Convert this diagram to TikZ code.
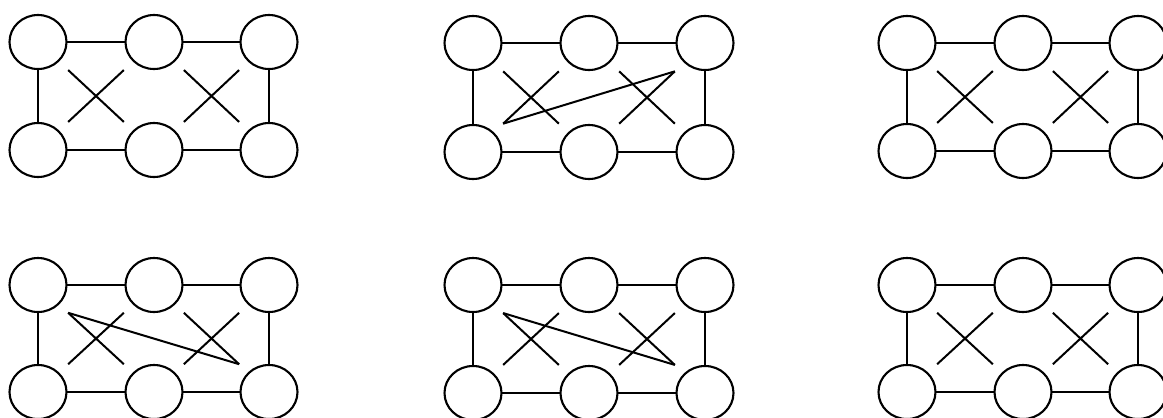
\documentclass[tikz,border=0pt]{standalone}
\usetikzlibrary{shapes.geometric,calc}
\tikzset{
  vx/.style={draw=black, ellipse, line width=2.1pt, minimum width=57pt, minimum height=54pt, inner sep=0pt, outer sep=0pt},
  ed/.style={draw=black, line width=2pt}
}
\newcommand\graphsix[6]{%
  \node[vx] (#1a) at (#2,#5) {};
  \node[vx] (#1b) at (#3,#5) {};
  \node[vx] (#1c) at (#4,#5) {};
  \node[vx] (#1d) at (#2,#6) {};
  \node[vx] (#1e) at (#3,#6) {};
  \node[vx] (#1f) at (#4,#6) {};
  \draw[ed] (#1a) -- (#1b) -- (#1c) (#1d) -- (#1e) -- (#1f) (#1a) -- (#1d) (#1c) -- (#1f);
  \coordinate (#1ae) at ($(#1a.center)!0.26!(#1e.center)$);
  \coordinate (#1ea) at ($(#1a.center)!0.74!(#1e.center)$);
  \coordinate (#1bd) at ($(#1b.center)!0.26!(#1d.center)$);
  \coordinate (#1db) at ($(#1b.center)!0.74!(#1d.center)$);
  \coordinate (#1bf) at ($(#1b.center)!0.26!(#1f.center)$);
  \coordinate (#1fb) at ($(#1b.center)!0.74!(#1f.center)$);
  \coordinate (#1ce) at ($(#1c.center)!0.26!(#1e.center)$);
  \coordinate (#1ec) at ($(#1c.center)!0.74!(#1e.center)$);
  \draw[ed] (#1ae) -- (#1ea) (#1bd) -- (#1db) (#1bf) -- (#1fb) (#1ce) -- (#1ec);
}
\begin{document}
\begin{tikzpicture}[x=1pt,y=-1pt]
  \useasboundingbox[fill=white] (0,0) rectangle (1163,418);
  \graphsix{ga}{38}{154}{269}{42}{150}
  \graphsix{gb}{473}{589}{705}{43}{152}
  \graphsix{gc}{907}{1023}{1138}{43}{151}
  \graphsix{gd}{38}{154}{269}{285}{392}
  \graphsix{ge}{473}{589}{705}{285}{393}
  \graphsix{gf}{907}{1023}{1138}{285}{392}
  \draw[ed] (gbdb) -- (gbce);
  \draw[ed] (gdae) -- (gdfb);
  \draw[ed] (geae) -- (gefb);
\end{tikzpicture}
\end{document}
